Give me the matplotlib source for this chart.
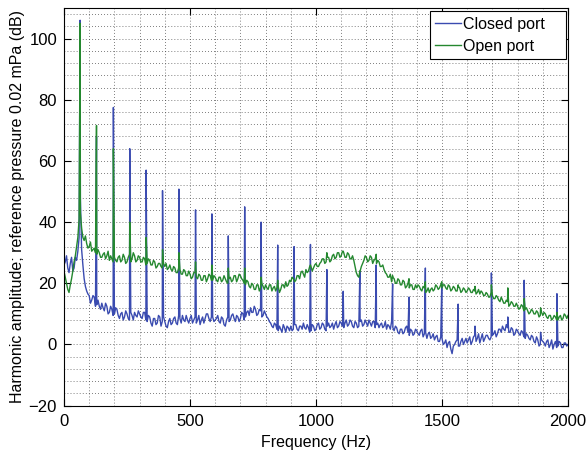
import numpy as np
import matplotlib.pyplot as plt

plt.rcParams['font.family'] = ['Liberation Sans', 'DejaVu Sans']

# Broadband level between harmonics: samples on the 10 Hz grid (0 ... 2000 Hz)
freq_base = np.arange(0, 2001, 10)
# and in between, on the 5, 15, ... 1995 Hz grid
freq_mid = np.arange(5, 2000, 10)

closed_base = [
    26, 29, 23.5, 28.5, 25, 27.5, 35, 31, 21.5, 17.5,          # 0-90
    16, 14.5, 15.5, 13, 12.5, 13.5, 11, 12.5, 10.5, 11.5,      # 100-190
    10, 11.5, 8.5, 10.5, 9, 10, 8, 9.5, 10.5, 9,               # 200-290
    10, 8.5, 10.5, 7.5, 9, 6, 8.5, 7, 9, 7.5,                  # 300-390
    7.5, 5.5, 8.5, 7, 9, 6.5, 8.5, 9.5, 7.5, 8,                # 400-490
    8.5, 7, 9, 8, 6.5, 9, 8.5, 10, 7.5, 9,                     # 500-590
    8, 9.5, 7, 8.5, 6, 9, 8, 10, 7.5, 9,                       # 600-690
    8.5, 10, 9, 11, 12, 10.5, 11.5, 10, 11, 9.5,               # 700-790
    10, 8.5, 7, 5.5, 6.5, 4.5, 5, 6.5, 4, 5.5,                 # 800-890
    6, 5, 6.5, 4.5, 6, 7, 5, 5.5, 4.5, 6,                      # 900-990
    5, 7, 5.5, 6.5, 4.5, 7, 6, 5, 7.5, 6,                      # 1000-1090
    7, 5.5, 8, 6.5, 7.5, 5.5, 7, 6, 8, 6.5,                    # 1100-1190
    7, 8, 6, 7.5, 6.5, 5.5, 7, 6, 5, 6,                        # 1200-1290
    7.5, 4.5, 5.5, 3.5, 5, 4, 6, 3, 4.5, 3.5,                  # 1300-1390
    4.5, 3, 5, 3.5, 2, 4, 2.5, 1.5, 3, 1,                      # 1400-1490
    2, 0.5, -1, 1, -3, 0, 1.5, -0.5, 2, 1,                     # 1500-1590
    0.5, 2.5, 1, 3, 2, 0.5, 3.5, 2, 3, 1.5,                    # 1600-1690
    3, 4.5, 3.5, 5, 6, 4.5, 5.5, 4, 5, 3.5,                    # 1700-1790
    4.5, 3, 4, 2, 3, 1.5, 2.5, 0.5, 1.5, 0,                    # 1800-1890
    1, -0.5, 1.5, 0, -1.5, 1, -0.5, 0.5, -1, 0.5,              # 1900-1990
    0,                                                         # 2000
]
closed_mid = [
    27, 25, 26.5, 24, 28.5, 30.5, 48, 26, 19, 16.5,            # 5-95
    13.5, 16, 12.5, 14.5, 11.5, 12, 13.5, 10, 12.5, 9.5,       # 105-195
    12, 9.5, 10, 8, 11, 8.5, 10.5, 8, 9.5, 11,                 # 205-295
    9, 10.5, 8, 9.5, 7, 8.5, 6.5, 9.5, 6, 9,                   # 305-395
    6, 7.5, 6.5, 8.5, 7, 9.5, 7, 8, 9.5, 7,                    # 405-495
    9.5, 8, 7, 9.5, 8, 7, 10, 8.5, 9, 7.5,                     # 505-595
    8.5, 7.5, 9, 6.5, 8, 7.5, 9.5, 8.5, 9.5, 7.5,              # 605-695
    10.5, 8, 10.5, 9.5, 10.5, 12.5, 9.5, 11.5, 9, 11,          # 705-795
    9, 7.5, 6, 7, 5, 6, 4, 5.5, 6, 4.5,                        # 805-895
    4.5, 6.5, 5, 6, 5, 5.5, 6.5, 4, 6.5, 4.5,                  # 905-995
    6.5, 5, 7, 5, 6, 5.5, 7, 6.5, 5.5, 7.5,                    # 1005-1095
    6, 7, 6, 8, 6, 7.5, 5.5, 7.5, 6, 8,                        # 1105-1195
    6, 7, 7.5, 5.5, 7, 6.5, 5.5, 7.5, 6.5, 5,                  # 1205-1295
    5.5, 6, 4, 5, 3.5, 5.5, 4, 5, 3, 5,                        # 1305-1395
    3.5, 4.5, 2.5, 4, 3.5, 2, 3.5, 2.5, 1, 2.5,                # 1405-1495
    0, 1.5, 0.5, -1.5, -0.5, 1, -0.5, 1, 0, 2,                 # 1505-1595
    1.5, 0, 2.5, 1, 3.5, 2, 1, 3, 2, 2.5,                      # 1605-1695
    3.5, 2.5, 5, 4, 5, 6.5, 4, 5.5, 3, 5,                      # 1705-1795
    3.5, 4.5, 2.5, 3.5, 2, 3, 1, 2.5, -0.5, 1.5,               # 1805-1895
    0.5, 1, -1, 1.5, 0, -1, 1, -1, 0.5, -0.5,                  # 1905-1995
]

open_base = [
    24, 20, 17, 21.5, 27, 32, 41, 38, 34, 33,                  # 0-90
    32, 30.5, 31.5, 29.5, 30, 28.5, 30, 29, 27.5, 28,          # 100-190
    28.5, 27, 29, 27.5, 28.5, 27, 29.5, 28, 29, 27.5,          # 200-290
    28.5, 27, 28, 26.5, 27.5, 26, 27, 25.5, 26.5, 25,          # 300-390
    25.5, 24.5, 26, 24, 25, 23.5, 24.5, 23, 24, 22.5,          # 400-490
    23, 22, 23.5, 21.5, 22.5, 21, 22.5, 21.5, 22.5, 21,        # 500-590
    22, 20.5, 22, 21, 21.5, 20, 22, 21, 22.5, 21.5,            # 600-690
    22.5, 21, 19.5, 20.5, 18.5, 19.5, 18, 19.5, 18.5, 19,      # 700-790
    19.5, 18, 19.5, 18.5, 17.5, 19, 18, 19.5, 20.5, 19.5,      # 800-890
    20.5, 21.5, 21, 22.5, 23.5, 23, 24.5, 24, 25.5, 25,        # 900-990
    26.5, 25.5, 27, 28, 27, 28.5, 27.5, 29.5, 28.5, 30,        # 1000-1090
    29, 30, 28.5, 29.5, 28, 27.5, 23.5, 22, 25.5, 27.5,        # 1100-1190
    28.5, 27.5, 28.5, 27.5, 26.5, 27, 25.5, 24.5, 23, 22,      # 1200-1290
    20.5, 21.5, 20, 21, 19.5, 20.5, 19, 18.5, 19.5, 18,        # 1300-1390
    18.5, 19, 17.5, 18.5, 17.5, 17, 18.5, 18, 19, 18.5,        # 1400-1490
    18.5, 19.5, 18, 19, 18, 18.5, 17.5, 18.5, 17.5, 18,        # 1500-1590
    17.5, 18, 17, 17.5, 17, 16.5, 17, 16, 16.5, 15.5,          # 1600-1690
    16, 15, 15.5, 14, 14.5, 13.5, 14, 13, 13.5, 12.5,          # 1700-1790
    12.5, 12, 12.5, 11.5, 11, 10.5, 11, 10, 10.5, 9.5,         # 1800-1890
    9.5, 10, 8.5, 9.5, 8.5, 9, 8, 9.5, 8.5, 9.5,               # 1900-1990
    9.5,                                                       # 2000
]
open_mid = [
    22, 18, 19.5, 24, 29, 35, 43, 35, 35.5, 31.5,              # 5-95
    33.5, 31, 30, 31, 28.5, 29.5, 28, 30.5, 29, 27,            # 105-195
    27.5, 28.5, 27, 29.5, 26.5, 28.5, 27, 30, 27, 29,          # 205-295
    27, 28.5, 26, 28, 26, 27.5, 25, 26.5, 25.5, 26.5,          # 305-395
    26.5, 25, 24.5, 25.5, 23.5, 25, 23, 24.5, 22.5, 24,        # 405-495
    21.5, 23.5, 22, 23, 21, 22.5, 20.5, 23, 21, 22.5,          # 505-595
    21, 22, 20.5, 22.5, 20.5, 21.5, 20.5, 22.5, 20.5, 23,      # 605-695
    21.5, 20, 21, 19, 20, 18, 19.5, 17.5, 20, 18,              # 705-795
    18.5, 19.5, 17.5, 19, 18.5, 17, 19.5, 18.5, 19, 21,        # 805-895
    22, 20.5, 22.5, 21.5, 24, 22, 23.5, 25.5, 24, 26,          # 905-995
    25.5, 26.5, 28, 26.5, 28.5, 27, 29, 28, 30, 28.5,          # 1005-1095
    30.5, 28.5, 30, 28, 29, 25.5, 22.5, 24, 26.5, 29,          # 1105-1195
    27, 29, 26.5, 28, 27.5, 25.5, 26, 23.5, 22, 23,            # 1205-1295
    22, 20, 21.5, 19.5, 21, 18.5, 20, 19.5, 18, 19.5,          # 1305-1395
    19.5, 18, 19, 17, 18.5, 18, 17.5, 19.5, 18, 19.5,          # 1405-1495
    19.5, 18.5, 19.5, 17.5, 19, 17.5, 19, 17, 18.5, 17,        # 1505-1595
    18.5, 17, 18, 16.5, 18, 17.5, 16, 17, 15.5, 17,            # 1605-1695
    15, 16, 14.5, 15.5, 13.5, 14.5, 12.5, 14, 12.5, 13.5,      # 1705-1795
    11.5, 13, 11, 12, 10, 11.5, 10, 11, 9, 10.5,               # 1805-1895
    10.5, 9, 9.5, 8, 9.5, 8, 9, 8, 10, 8.5,                    # 1905-1995
]

# Harmonics of the ~65 Hz fundamental and their peak levels (dB)
harmonic_freq = [64, 129, 196, 261, 326, 391, 456, 522, 587, 652,
                 717, 782, 848, 913, 978, 1043, 1108, 1174, 1239, 1304,
                 1369, 1434, 1499, 1564, 1631, 1696, 1761, 1826, 1891, 1956]
closed_peaks = [106, 68, 77.5, 64, 57, 50.3, 50.8, 44, 42.7, 35.5,
                45, 40, 32.5, 32, 32.7, 24.5, 17.4, 24, 26, 19.8,
                15.5, 25, 19.8, 13.2, 6, 23.4, 9, 21, 4, 16.6]
open_peaks = [105, 71.6, 64, 40, 35, 31, 30, 27, 26, 25,
              25, 22, 21, 21, 26, 30, 30.5, 24, 29.5, 22.5,
              21.5, 20.5, 20.5, 19.5, 19, 19.5, 18.5, 15, 12, 10.5]


def spectrum(base, mid, peaks):
    # merge the broadband samples with the harmonic peaks, sorted by frequency
    f = np.concatenate([freq_base, freq_mid, harmonic_freq])
    v = np.concatenate([base, mid, peaks])
    order = np.argsort(f, kind='stable')
    return f[order], v[order]


fig = plt.figure(figsize=(5.86, 4.55), dpi=100)
ax = fig.add_axes([0.1092, 0.1084, 0.8601, 0.874])

f_closed, v_closed = spectrum(closed_base, closed_mid, closed_peaks)
f_open, v_open = spectrum(open_base, open_mid, open_peaks)
ax.plot(f_closed, v_closed, color='#3a4bb0', lw=1.0, label='Closed port')
ax.plot(f_open, v_open, color='#24882f', lw=1.0, label='Open port')

ax.set_xlim(0, 2000)
ax.set_ylim(-20, 110)
ax.set_xticks([0, 500, 1000, 1500, 2000])
ax.set_yticks([-20, 0, 20, 40, 60, 80, 100])
ax.set_xticks(np.arange(0, 2001, 100), minor=True)
ax.set_yticks(np.arange(-20, 110, 4), minor=True)

# dotted grid on every 100 Hz and every 4 dB
ax.grid(True, which='both', color='#333333', linestyle=(0, (1, 3)), linewidth=0.55)
ax.tick_params(which='major', direction='in', length=5, top=True, right=True,
               labelsize=12, width=0.8)
ax.tick_params(axis='x', which='major', pad=6)
ax.tick_params(axis='y', which='major', pad=5)
ax.tick_params(which='minor', length=0)
for s in ax.spines.values():
    s.set_linewidth(0.8)

ax.set_xlabel('Frequency (Hz)', fontsize=11.5, labelpad=4)
ax.set_ylabel('Harmonic amplitude; reference pressure 0.02 mPa (dB)', fontsize=11.5, labelpad=3)

# legend box stretched to a fixed width in the top right corner
leg = ax.legend(loc='upper right', bbox_to_anchor=(0.726, 0.0, 0.27, 0.9925),
                mode='expand', fontsize=11.5, fancybox=False, framealpha=1,
                edgecolor='black', borderaxespad=0, handlelength=1.6,
                handletextpad=0.1, labelspacing=0.45, borderpad=0.35)
leg.get_frame().set_linewidth(0.8)

plt.savefig('out.png', dpi=100)
plt.close()
